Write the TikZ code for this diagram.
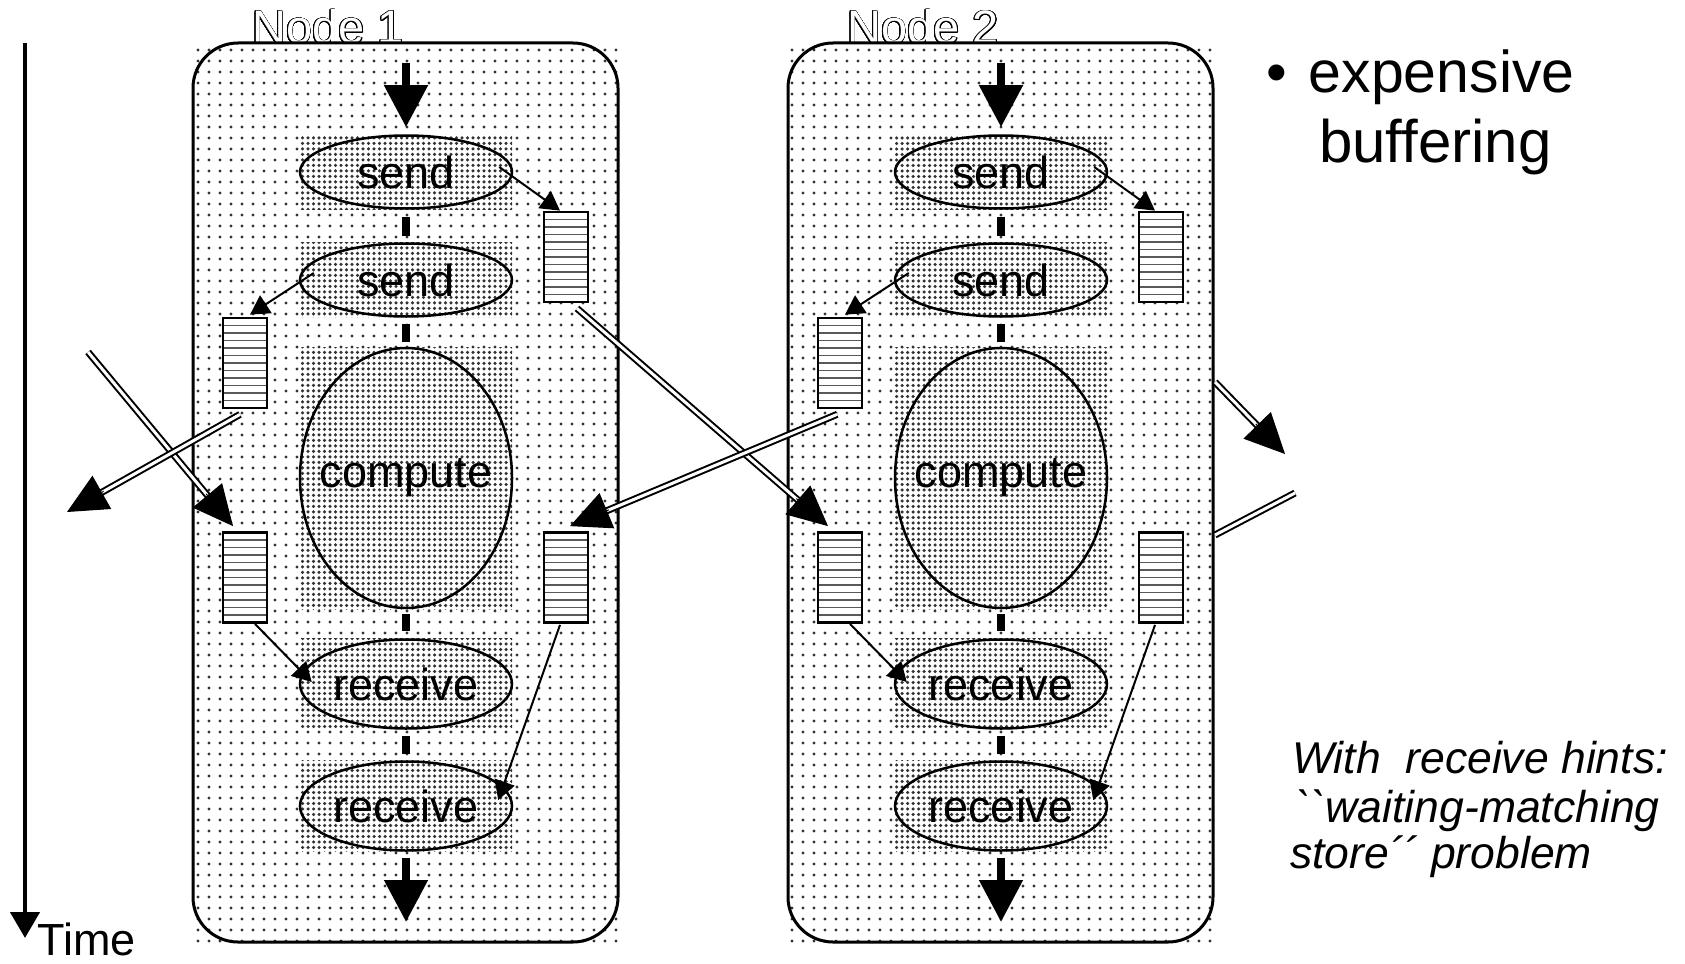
\documentclass[tikz,border=0pt]{standalone}
\usepackage{fontspec}
\setmainfont{Liberation Sans}
\newfontfamily\hintfont{Liberation Sans}
\usepackage[copies]{contour}
\contourlength{0.65pt}
\contournumber{32}
\usetikzlibrary{arrows.meta,shapes.geometric,patterns.meta,calc}
\tikzset{
  sparsedots/.style={pattern={Dots[distance=11pt,radius=1.7pt]},pattern color=black!80},
  densedots/.style={pattern={Dots[distance=5.5pt,radius=1.75pt]},pattern color=black!80},
  op/.style={ellipse,draw,line width=2.5pt,minimum width=212pt,inner sep=0pt,font=\fontsize{45}{47}\selectfont},
  buf/.style={draw,fill=white,line width=2.8pt,minimum width=44pt,minimum height=90pt,inner sep=0pt,
    path picture={\foreach \k in {1,...,11}{\draw[black!65,line width=1.8pt]
      ($(path picture bounding box.north west)!{\k/12}!(path picture bounding box.south west)$) -- ++(60,0);}}},
  msg/.style={line width=2pt,-{Triangle[width=21pt,length=19pt]}},
  flowbar/.style={line width=8pt},
  bigarrow/.style={line width=8pt,-{Triangle[width=42pt,length=42pt]}},
  dbl/.style={double,double distance=3pt,line width=2pt},
  dblhead/.style={line width=1pt,-{Triangle[width=38pt,length=40pt]}},
  nodelabel/.style={anchor=base,text=white,font=\fontsize{47}{49}\selectfont},
}
\newcommand\dblarrow[2]{\draw[dbl,shorten >=28pt] (#1) -- (#2); \draw[dblhead] ($(#2)!42pt!(#1)$) -- (#2);}
\begin{document}
\begin{tikzpicture}[x=1pt,y=-1pt]
\useasboundingbox (0,0) rectangle (1685,963);
\fill[white] (0,0) rectangle (1685,963);
% time axis
\coordinate (t0) at (25,43);
\coordinate (t1) at (25,938);
\draw[line width=4.5pt,-{Triangle[width=29pt,length=26pt]}] (t0) -- (t1);
\node[anchor=base west,font=\fontsize{45}{47}\selectfont,inner sep=0pt] (tl) at (37,955) {Time};
\foreach \col/\cx in {1/407,2/1002}{
  \node[nodelabel,inner sep=0pt] (lbl\col) at (\cx-79,44) {\contour{black}{Node \col}};
  \fill[white] (\cx-214,43) rectangle (\cx+211,942);
  \fill[sparsedots] (\cx-214,43) rectangle (\cx+211,942);
  \node[draw,rounded corners=45pt,line width=3pt,minimum width=425pt,minimum height=899pt,inner sep=0pt] (box\col) at (\cx-1.5,492.5) {};
  \foreach \nm/\yy/\hh/\tx in {s1/172/73/send,s2/280/73/send,cp/478/260/compute,r1/684/89/receive,r2/806/89/receive}{
    \fill[white] (\cx-107,\yy-\hh/2-1) rectangle (\cx+105,\yy+\hh/2+1);
    \fill[densedots] (\cx-107,\yy-\hh/2-1) rectangle (\cx+105,\yy+\hh/2+1);
    \node[op,minimum height=\hh pt] (\nm-\col) at (\cx-1,\yy) {\makebox[0pt]{\tx}};
  }
  \node[buf] (lb1-\col) at (\cx-162,363) {};
  \node[buf] (rb1-\col) at (\cx+159,257) {};
  \node[buf] (lb2-\col) at (\cx-162,577.5) {};
  \node[buf] (rb2-\col) at (\cx+159,577.5) {};
  \coordinate (in-\col) at (\cx-1,63);
  \coordinate (out-\col) at (\cx-1,922);
  \draw[bigarrow,shorten >=7pt] (in-\col) -- (s1-\col.north);
  \draw[flowbar,shorten <=7pt,shorten >=6pt] (s1-\col.south) -- (s2-\col.north);
  \draw[flowbar,shorten <=6pt,shorten >=5pt] (s2-\col.south) -- (cp-\col.north);
  \draw[flowbar,shorten <=5pt,shorten >=7pt] (cp-\col.south) -- (r1-\col.north);
  \draw[flowbar,shorten <=6pt,shorten >=6pt] (r1-\col.south) -- (r2-\col.north);
  \draw[bigarrow,shorten <=6pt] (r2-\col.south) -- (out-\col);
  \draw[msg] ($(s1-\col.east)+(-14,-5)$) -- ($(rb1-\col.north)+(-6,0)$);
  \draw[msg] ($(s2-\col.west)+(15,-7)$) -- ($(lb1-\col.north)+(5,-2)$);
  \draw[msg] ($(lb2-\col.south)+(10,0)$) -- ($(r1-\col.west)+(13,-2)$);
  \draw[msg] ($(rb2-\col.south)+(-6,1)$) -- ($(r2-\col.east)+(-15,-6)$);
}
% message channels between nodes
\coordinate (inL) at (88,352);
\coordinate (outL) at (67,512);
\coordinate (d1e) at ($(lb2-1.north)+(-12,-5)$);
\coordinate (d2s) at ($(lb1-1.south)+(-5,5)$);
\coordinate (d3s) at ($(rb1-1.south)+(11,5)$);
\coordinate (d3e) at ($(lb2-2.north)+(-12,-5)$);
\coordinate (d4s) at ($(lb1-2.south)+(-3,5)$);
\coordinate (d4e) at ($(rb2-1.north)+(4,-5)$);
\coordinate (o5s) at (1215,382);
\coordinate (o5e) at (1285,454);
\coordinate (o6s) at (1295,493);
\coordinate (o6e) at (1215,535);
\dblarrow{inL}{d1e}
\dblarrow{d2s}{outL}
\dblarrow{d3s}{d3e}
\dblarrow{d4s}{d4e}
\dblarrow{o5s}{o5e}
\draw[dbl] (o6s) -- (o6e);
% texts
\node[anchor=base west,inner sep=0pt,font=\fontsize{59}{61}\selectfont] (bul) at (1266,93) {•\hskip 22pt expensive};
\node[anchor=base west,inner sep=0pt,font=\fontsize{60}{62}\selectfont] (buf) at (1319,162) {buffering};
\node[anchor=base west,inner sep=0pt,font=\hintfont\fontsize{44.5}{48}\selectfont\itshape] (h1) at (1292,773) {With\ \ receive hints:};
\node[anchor=base west,inner sep=0pt,font=\hintfont\fontsize{44.5}{48}\selectfont\itshape] (h2) at (1296,822) {``waiting-matching};
\node[anchor=base west,inner sep=0pt,font=\hintfont\fontsize{44.5}{48}\selectfont\itshape] (h3) at (1290,868) {store´´ problem};
\end{tikzpicture}
\end{document}
